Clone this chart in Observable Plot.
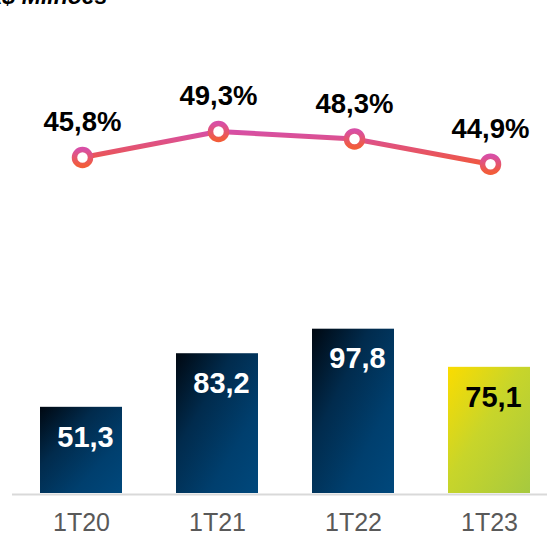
<!DOCTYPE html>
<html>
<head>
<meta charset="utf-8">
<script src="https://cdn.jsdelivr.net/npm/d3@7"></script>
<script src="https://cdn.jsdelivr.net/npm/@observablehq/plot@0.6"></script>
<style>
  html, body { margin: 0; padding: 0; background: #fff; overflow: hidden; }
  #wrap { position: relative; width: 547px; height: 534px; overflow: hidden; }
  #wrap svg { position: absolute; left: 0; top: 0; }
  #title { position: absolute; left: -14px; top: -15.5px; font: italic bold 23px "Liberation Sans", Arial, sans-serif; line-height: 23px; color: #000; white-space: nowrap; }
</style>
</head>
<body>
<div id="wrap"><div id="title">R$ Milhões</div></div>
<script>
const categories = ["1T20", "1T21", "1T22", "1T23"];
const revenue = [51.3, 83.2, 97.8, 75.1];        // R$ Milhões (bars)
const marginPct = [45.8, 49.3, 48.3, 44.9];      // % (line)
const highlight = "1T23";

const fmt = v => String(v).replace(".", ",");
const bars = categories.map((c, i) => ({cat: c, v: revenue[i]}));
const line = categories.map((c, i) => ({cat: c, p: marginPct[i]}));

const font = '"Liberation Sans", Arial, sans-serif';

function defs() {
  const d = d3.create("svg:defs");
  const navy = d.append("linearGradient").attr("id", "navy")
    .attr("x1", 0).attr("y1", 0).attr("x2", 1).attr("y2", 1);
  navy.append("stop").attr("offset", "0").attr("stop-color", "#000811");
  navy.append("stop").attr("offset", "0.35").attr("stop-color", "#012b4d");
  navy.append("stop").attr("offset", "0.7").attr("stop-color", "#003f6e");
  navy.append("stop").attr("offset", "1").attr("stop-color", "#00487c");
  const lime = d.append("linearGradient").attr("id", "lime")
    .attr("x1", 0).attr("y1", 0).attr("x2", 1).attr("y2", 1);
  lime.append("stop").attr("offset", "0").attr("stop-color", "#fbdc00");
  lime.append("stop").attr("offset", "0.45").attr("stop-color", "#c8d52a");
  lime.append("stop").attr("offset", "1").attr("stop-color", "#a6c93f");
  const pink = d.append("linearGradient").attr("id", "pinkline")
    .attr("x1", 0).attr("y1", 0).attr("x2", 0).attr("y2", 1);
  pink.append("stop").attr("offset", "0").attr("stop-color", "#d64fa6");
  pink.append("stop").attr("offset", "1").attr("stop-color", "#f0573f");
  const ring = d.append("linearGradient").attr("id", "ring")
    .attr("x1", 0).attr("y1", 0).attr("x2", 0).attr("y2", 1);
  ring.append("stop").attr("offset", "0").attr("stop-color", "#d84fa5");
  ring.append("stop").attr("offset", "1").attr("stop-color", "#f25c3a");
  return d.node();
}

const barPlot = Plot.plot({
  width: 547,
  height: 534,
  marginLeft: 12,
  marginRight: 0,
  marginTop: 0,
  marginBottom: 41,
  style: {background: "transparent", fontFamily: font},
  x: {domain: categories, range: [12, 559], paddingInner: 0.394, paddingOuter: 0.197, label: null},
  y: {domain: [0, 100], range: [493, 325], axis: null},
  marks: [
    defs,
    Plot.barY(bars.filter(d => d.cat !== highlight), {x: "cat", y: "v", fill: "url(#navy)"}),
    Plot.barY(bars.filter(d => d.cat === highlight), {x: "cat", y: "v", fill: "url(#lime)"}),
    Plot.text(bars, {x: "cat", y: "v", text: d => fmt(d.v), dy: 30, dx: 4,
      fill: d => d.cat === highlight ? "#000" : "#fff",
      fontSize: 29, fontWeight: "bold", fontFamily: font}),
    Plot.ruleY([0], {stroke: "#d9d9d9", strokeWidth: 2, dy: 1}),
    Plot.axisX({tickSize: 0, tickPadding: 20, fontSize: 25, fill: "#595959", fontFamily: font, label: null})
  ]
});

const linePlot = Plot.plot({
  width: 547,
  height: 534,
  margin: 0,
  style: {background: "transparent", fontFamily: font},
  x: {type: "point", domain: categories, range: [80.5, 490.5], padding: 0, axis: null},
  y: {domain: [40, 50], range: [200.1, 125.8], axis: null},
  marks: [
    defs,
    Plot.line(line, {x: "cat", y: "p", stroke: "url(#pinkline)", strokeWidth: 5}),
    Plot.dot(line, {x: "cat", y: "p", r: 8, fill: "#fff", stroke: "url(#ring)", strokeWidth: 5.5}),
    Plot.text(line, {x: "cat", y: "p", text: d => fmt(d.p) + "%", dy: -35,
      fill: "#000", fontSize: 27.5, fontWeight: "bold", fontFamily: font})
  ]
});

const wrap = document.getElementById("wrap");
wrap.appendChild(barPlot);
wrap.appendChild(linePlot);
</script>
</body>
</html>
